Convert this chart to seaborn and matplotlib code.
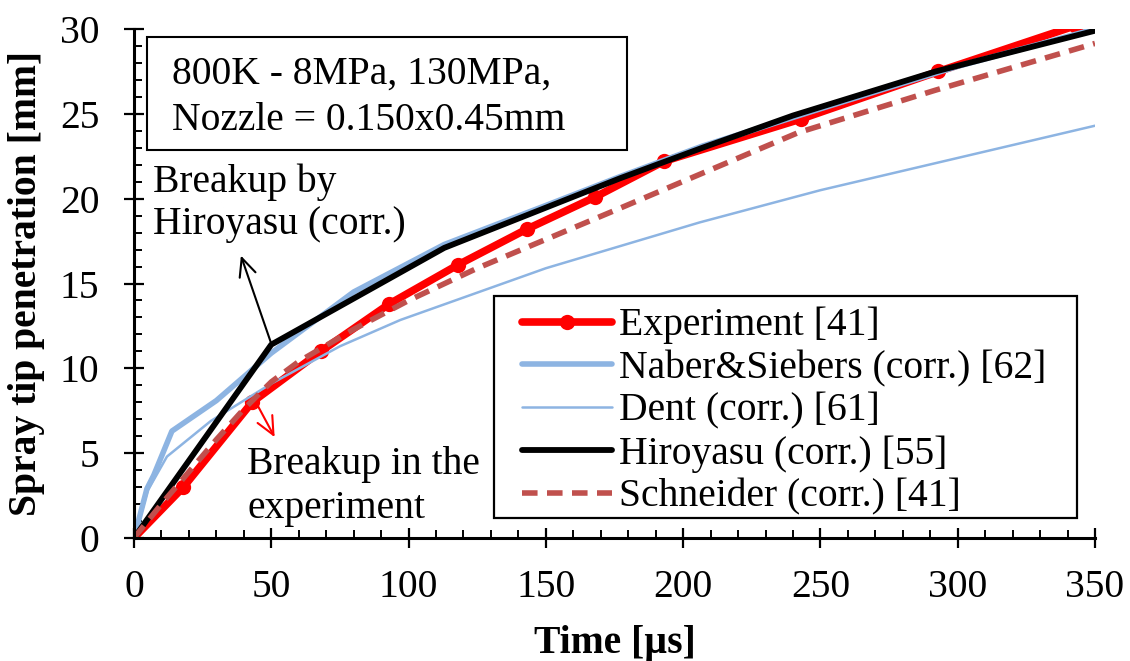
import matplotlib
matplotlib.use("Agg")
import matplotlib.pyplot as plt
import seaborn as sns
from matplotlib.ticker import MultipleLocator
from matplotlib.patches import Rectangle

# ---------------- data ----------------
exp_t = [0, 18, 43, 68, 93, 118, 143, 168, 193, 243, 293, 343]
exp_s = [0, 3.0, 8.0, 11.0, 13.8, 16.1, 18.2, 20.1, 22.2, 24.7, 27.5, 30.2]

naber_t = [0, 4.7, 7.2, 13.8, 30, 50, 80, 113, 150, 177, 207, 250, 300, 350]
naber_s = [0, 2.9, 3.7, 6.3, 8.1, 10.9, 14.5, 17.3, 19.6, 21.3, 23.1, 25.3, 27.8, 30.0]

dent_t = [0, 5, 12, 28, 40, 50, 75, 97, 150, 206, 250, 300, 350]
dent_s = [0, 2.8, 4.8, 6.9, 8.1, 9.1, 11.3, 12.85, 15.9, 18.6, 20.5, 22.4, 24.3]

hiro_t = [0, 50, 113, 177, 207, 240, 292, 350]
hiro_s = [0, 11.4, 17.1, 21.2, 23.0, 24.9, 27.5, 29.9]

schn_t = [0, 10, 20, 30, 40, 50, 60, 80, 100, 125, 150, 175, 207, 242, 292, 350]
schn_s = [0, 2.0, 3.9, 5.8, 7.6, 9.2, 10.4, 12.3, 14.0, 15.9, 17.6, 19.3, 21.5, 23.9, 26.4, 29.15]

labels = ["Experiment [41]", "Naber&Siebers (corr.) [62]", "Dent (corr.) [61]",
          "Hiroyasu (corr.) [55]", "Schneider (corr.) [41]"]

x_ticks = [0, 50, 100, 150, 200, 250, 300, 350]
y_ticks = [0, 5, 10, 15, 20, 25, 30]

# ---------------- style ----------------
sns.set_style("ticks")
plt.rcParams['font.family'] = ['Liberation Serif', 'DejaVu Serif']
for k in ['text.color', 'axes.labelcolor', 'xtick.color', 'ytick.color', 'axes.edgecolor']:
    plt.rcParams[k] = 'black'
FS = 28.5

fig = plt.figure(figsize=(11.3, 6.61), dpi=100)
ax = fig.add_axes([0.1186, 0.1861, 0.8504, 0.7700])

RED = "#FF0000"
LBLUE = "#8DB4E2"
DRED = "#C0504D"

sns.lineplot(x=exp_t, y=exp_s, ax=ax, color=RED, lw=5.5, marker='o', markersize=11,
             markeredgewidth=0, label=labels[0], sort=False, estimator=None)
sns.lineplot(x=naber_t, y=naber_s, ax=ax, color=LBLUE, lw=4, label=labels[1],
             sort=False, estimator=None)
sns.lineplot(x=dent_t, y=dent_s, ax=ax, color=LBLUE, lw=1.8, label=labels[2],
             sort=False, estimator=None)
sns.lineplot(x=hiro_t, y=hiro_s, ax=ax, color="black", lw=4.2, label=labels[3],
             sort=False, estimator=None)
sns.lineplot(x=schn_t, y=schn_s, ax=ax, color=DRED, lw=4, label=labels[4],
             sort=False, estimator=None)
ln = ax.lines[-1]
ln.set_dashes((2.8, 1.7))
ln.set_dash_capstyle('butt')

ax.lines[0].set_markevery(list(range(1, len(exp_t))))

ax.set_xlim(0, 350)
ax.set_ylim(0, 30)
ax.set_xticks(x_ticks)
ax.set_yticks(y_ticks)
ax.xaxis.set_minor_locator(MultipleLocator(10))
ax.yaxis.set_minor_locator(MultipleLocator(1))
ax.tick_params(which='major', direction='inout', length=14, width=1.6, labelsize=FS)
ax.tick_params(axis='x', which='major', pad=15.5)
ax.tick_params(axis='y', which='major', pad=18)
ax.tick_params(which='minor', direction='in', length=6, width=1.4)
for s in ['top', 'right']:
    ax.spines[s].set_visible(False)
for s in ['left', 'bottom']:
    ax.spines[s].set_linewidth(2.2)

ax.set_xlabel("Time [µs]", fontsize=FS, fontweight='bold')
ax.set_ylabel("Spray tip penetration [mm]", fontsize=FS, fontweight='bold')
ax.yaxis.set_label_coords(-0.093, 0.5)
ax.xaxis.set_label_coords(0.5, -0.171)

# info box
ax.add_patch(Rectangle((0.0135, 0.762), 0.4995, 0.222, transform=ax.transAxes,
                       fc='white', ec='black', lw=1.5, zorder=5, clip_on=False))
ax.text(0.0395, 0.866, "800K - 8MPa, 130MPa,\nNozzle = 0.150x0.45mm", fontsize=FS,
        va='center', ha='left', linespacing=1.35, transform=ax.transAxes, zorder=6)

# annotations
ax.text(0.0198, 0.658, "Breakup by\nHiroyasu (corr.)", fontsize=FS, va='center', ha='left',
        linespacing=1.2, transform=ax.transAxes)
ax.annotate("", xy=(38.6, 16.8), xytext=(50.1, 11.4),
            arrowprops=dict(arrowstyle='->,head_length=1.3,head_width=0.6', color='black', lw=1.5))
ax.text(0.1176, 0.102, "Breakup in the\nexperiment", fontsize=FS, va='center', ha='left',
        linespacing=1.25, transform=ax.transAxes)
ax.annotate("", xy=(51.7, 5.8), xytext=(44.4, 8.0),
            arrowprops=dict(arrowstyle='->,head_length=1.3,head_width=0.6', color=RED, lw=1.5))

# legend frame drawn separately, legend without frame
ax.add_patch(Rectangle((0.3746, 0.0393), 0.6067, 0.4361, transform=ax.transAxes,
                       fc='white', ec='black', lw=1.6, zorder=4))
leg = ax.legend(loc='upper left', bbox_to_anchor=(0.4037, 0.454), borderaxespad=0,
                fontsize=FS, frameon=False, handlelength=2.27,
                handletextpad=0.18, labelspacing=0.14, borderpad=0)
leg.set_zorder(6)

fig.savefig("out.png", dpi=100)
